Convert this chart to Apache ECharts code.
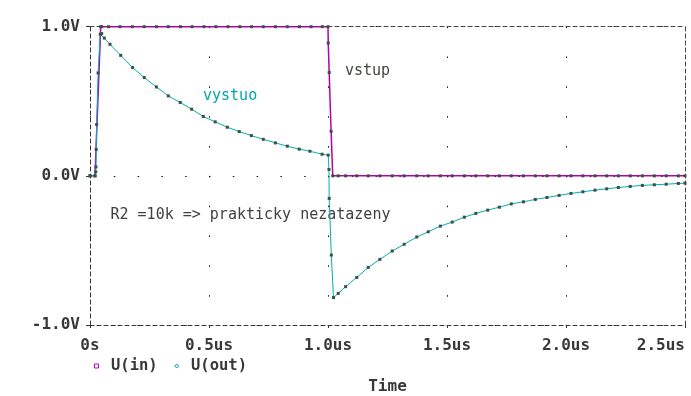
<!DOCTYPE html>
<html>
<head>
<meta charset="utf-8">
<script src="https://cdn.jsdelivr.net/npm/echarts@6/dist/echarts.min.js"></script>
<style>
html,body{margin:0;padding:0;background:#fff;}
#chart{width:691px;height:396px;}
</style>
</head>
<body>
<div id="chart"></div>
<script>
// ---- data (time in us, voltage in V) ----
var inT = [0, 0.021, 0.045, 0.049, 0.078, 0.126, 0.178, 0.228, 0.279, 0.329, 0.380, 0.429, 0.479, 0.529, 0.580, 0.630, 0.679, 0.728, 0.779, 0.829, 0.880, 0.929, 0.976, 1.000, 1.001, 1.005, 1.013, 1.020, 1.043, 1.074, 1.121, 1.169, 1.218, 1.270, 1.320, 1.373, 1.421, 1.472, 1.522, 1.573, 1.621, 1.671, 1.720, 1.770, 1.821, 1.871, 1.920, 1.971, 2.021, 2.071, 2.122, 2.171, 2.220, 2.270, 2.321, 2.371, 2.421, 2.472, 2.500];
var inV = [0, 0, 1, 1, 1, 1, 1, 1, 1, 1, 1, 1, 1, 1, 1, 1, 1, 1, 1, 1, 1, 1, 1, 1, 0.891, 0.693, 0.299, 0, 0, 0, 0, 0, 0, 0, 0, 0, 0, 0, 0, 0, 0, 0, 0, 0, 0, 0, 0, 0, 0, 0, 0, 0, 0, 0, 0, 0, 0, 0, 0];

var outT = [0, 0.021, 0.024, 0.025, 0.026, 0.028, 0.034, 0.043, 0.049, 0.060, 0.084, 0.129, 0.179, 0.228, 0.279, 0.329, 0.379, 0.427, 0.476, 0.526, 0.577, 0.627, 0.678, 0.728, 0.779, 0.829, 0.879, 0.924, 0.975, 1.001, 1.004, 1.005, 1.014, 1.023, 1.043, 1.074, 1.121, 1.169, 1.218, 1.270, 1.320, 1.373, 1.421, 1.472, 1.522, 1.573, 1.621, 1.671, 1.720, 1.770, 1.821, 1.871, 1.920, 1.971, 2.021, 2.071, 2.122, 2.171, 2.220, 2.270, 2.321, 2.371, 2.421, 2.472, 2.500];
var outV = [0, 0, 0.027, 0.060, 0.177, 0.344, 0.690, 0.949, 0.954, 0.924, 0.882, 0.808, 0.726, 0.659, 0.596, 0.536, 0.492, 0.447, 0.398, 0.362, 0.326, 0.297, 0.270, 0.245, 0.221, 0.199, 0.179, 0.165, 0.145, 0.139, 0.043, -0.151, -0.531, -0.816, -0.788, -0.743, -0.681, -0.614, -0.560, -0.504, -0.459, -0.410, -0.375, -0.337, -0.310, -0.277, -0.252, -0.230, -0.210, -0.188, -0.174, -0.158, -0.145, -0.131, -0.118, -0.107, -0.096, -0.087, -0.078, -0.071, -0.064, -0.060, -0.056, -0.051, -0.049];

var xTickValues = [0, 0.5, 1.0, 1.5, 2.0, 2.5];
var xTickLabels = ['0s', '0.5us', '1.0us', '1.5us', '2.0us', '2.5us'];
var yTickValues = [-1, 0, 1];
var yTickLabels = ['-1.0V', '0.0V', '1.0V'];

var seriesNames = ['U(in)', 'U(out)'];
var annotations = ['vstup', 'vystuo', 'R2 =10k => prakticky nezatazeny'];
var axisTitle = 'Time';

// ---- styling ----
var MONO = "'DejaVu Sans Mono', monospace";
var TXT = '#383838';
var MAG = '#b000b4';
var CYAN = '#00b0b4';
var MARK = '#3f4f3f';
var DASH = [4, 3];

function pairs(t, v) { return t.map(function (x, i) { return [x, v[i]]; }); }
function lookup(vals, labels) {
  return function (v) {
    for (var i = 0; i < vals.length; i++) if (Math.abs(vals[i] - v) < 1e-9) return labels[i];
    return '';
  };
}

var chart = echarts.init(document.getElementById('chart'), null, {renderer: 'canvas'});
var gridTop = 26.7, gridBottom = 71, gridLeft = 90, gridRight = 6;
var plotH = 396 - gridTop - gridBottom;
var plotW = 691 - gridLeft - gridRight;
var dotY = plotH / 10;   // 0.2 V spacing of grid dots
var dotX = plotW / 25;   // 0.1 us spacing of grid dots

var option = {
  animation: false,
  backgroundColor: '#fff',
  grid: {left: gridLeft, right: gridRight, top: gridTop, bottom: gridBottom, containLabel: false, outerBoundsMode: 'none'},
  xAxis: [{
    type: 'value', min: 0, max: 2.5, interval: 0.5, position: 'bottom',
    name: axisTitle, nameLocation: 'middle', nameGap: 54,
    nameTextStyle: {fontFamily: MONO, fontWeight: 'bold', fontSize: 16, color: TXT},
    axisLine: {show: true, onZero: false, lineStyle: {color: '#333', width: 1, type: DASH}},
    axisTick: {show: true, length: 3, lineStyle: {color: '#333'}},
    axisLabel: {show: true, margin: 13, formatter: lookup(xTickValues, xTickLabels),
      fontFamily: MONO, fontWeight: 'bold', fontSize: 16, color: TXT, alignMaxLabel: 'right'},
    splitLine: {show: true, lineStyle: {color: '#111', width: 1, type: [1.5, dotY - 1.5]}}
  }, {
    type: 'value', min: 0, max: 2.5, interval: 0.5, position: 'top',
    axisLine: {show: true, onZero: false, lineStyle: {color: '#444', width: 1, type: DASH}},
    axisTick: {show: false}, axisLabel: {show: false}, splitLine: {show: false}
  }],
  yAxis: [{
    type: 'value', min: -1, max: 1, interval: 1, position: 'left',
    axisLine: {show: true, onZero: false, lineStyle: {color: '#333', width: 1, type: DASH}},
    axisTick: {show: true, length: 4, lineStyle: {color: '#333'}},
    axisLabel: {show: true, margin: 10, formatter: lookup(yTickValues, yTickLabels),
      fontFamily: MONO, fontWeight: 'bold', fontSize: 16, color: TXT},
    splitLine: {show: true, lineStyle: {color: '#111', width: 1, type: [1.5, dotX - 1.5]}}
  }, {
    type: 'value', min: -1, max: 1, interval: 1, position: 'right',
    axisLine: {show: true, onZero: false, lineStyle: {color: '#444', width: 1, type: DASH}},
    axisTick: {show: false}, axisLabel: {show: false}, splitLine: {show: false}
  }],
  series: [{
    name: seriesNames[0], type: 'line', data: pairs(inT, inV),
    symbol: 'rect', symbolSize: 3, showSymbol: true, clip: false,
    lineStyle: {color: MAG, width: 1.5}, itemStyle: {color: MARK}, z: 3
  }, {
    name: seriesNames[1], type: 'line', data: pairs(outT, outV),
    symbol: 'rect', symbolSize: 3, showSymbol: true, clip: false,
    lineStyle: {color: CYAN, width: 1}, itemStyle: {color: MARK}, z: 4
  }],
  graphic: [
    {type: 'text', x: 345, y: 71.5, style: {text: annotations[0], font: '15px ' + MONO, fill: '#404840', verticalAlign: 'middle'}},
    {type: 'text', x: 203, y: 96.5, style: {text: annotations[1], font: '15px ' + MONO, fill: '#00a8ac', verticalAlign: 'middle'}},
    {type: 'text', x: 110.5, y: 215.5, style: {text: annotations[2], font: '15px ' + MONO, fill: '#404040', verticalAlign: 'middle'}},
    {type: 'rect', shape: {x: 94.5, y: 364, width: 4, height: 4}, style: {fill: 'none', stroke: '#c000c0', lineWidth: 1}},
    {type: 'text', x: 111, y: 366, style: {text: seriesNames[0], font: 'bold 15.5px ' + MONO, fill: TXT, verticalAlign: 'middle'}},
    {type: 'polygon', shape: {points: [[176.7, 364], [178.7, 366], [176.7, 368], [174.7, 366]]}, style: {fill: 'none', stroke: '#00a0a4', lineWidth: 1}},
    {type: 'text', x: 191, y: 366, style: {text: seriesNames[1], font: 'bold 15.5px ' + MONO, fill: TXT, verticalAlign: 'middle'}}
  ]
};
chart.setOption(option);
</script>
</body>
</html>
